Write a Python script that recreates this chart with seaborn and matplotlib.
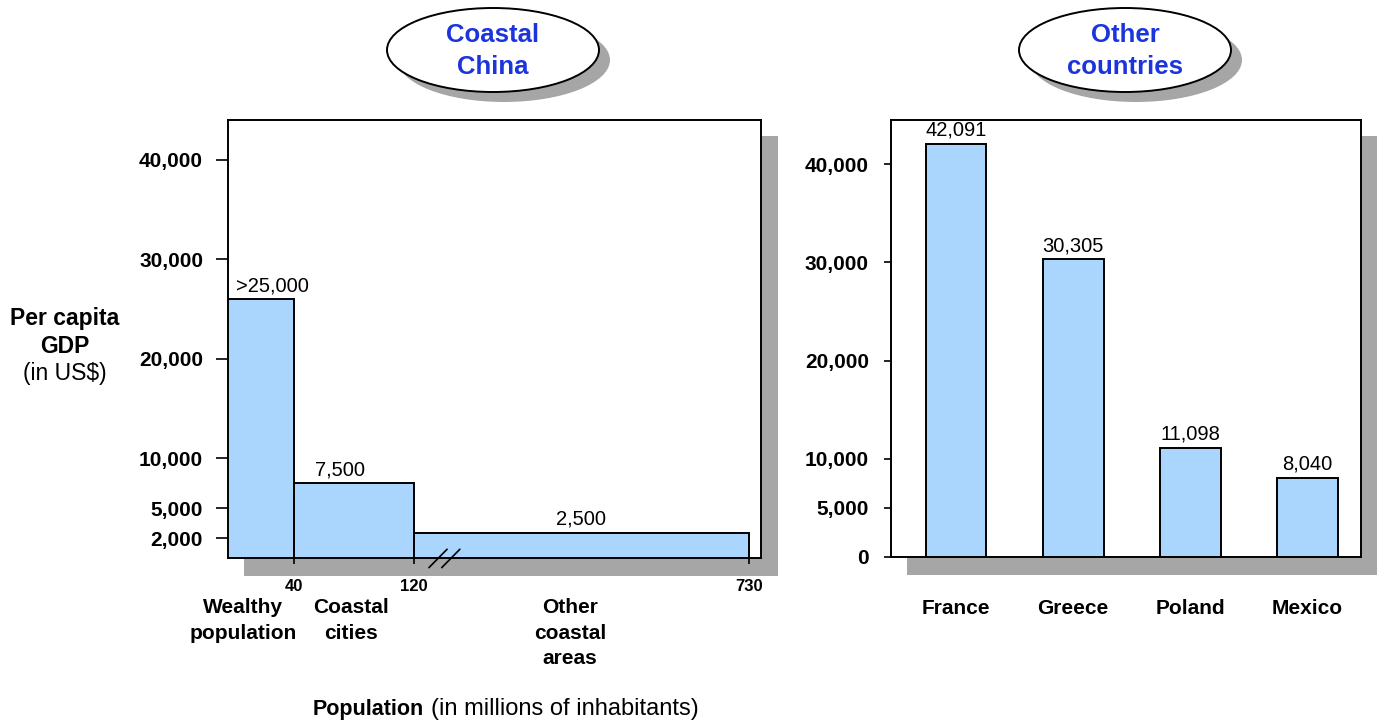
import numpy as np
import pandas as pd
import matplotlib
matplotlib.use("Agg")
import matplotlib.pyplot as plt
from matplotlib.patches import Rectangle, Ellipse
import seaborn as sns

# ---- data -------------------------------------------------------------
china_groups = ["Wealthy\npopulation", "Coastal\ncities", "Other\ncoastal\nareas"]
china_pop_edges = [0, 40, 120, 730]          # cumulative population, millions
china_gdp = [26000, 7500, 2500]              # per capita GDP, US$
china_gdp_labels = [">25,000", "7,500", "2,500"]

countries = ["France", "Greece", "Poland", "Mexico"]
country_gdp = [42091, 30305, 11098, 8040]
country_gdp_labels = ["42,091", "30,305", "11,098", "8,040"]

left_yticks = [2000, 5000, 10000, 20000, 30000, 40000]
right_yticks = [0, 5000, 10000, 20000, 30000, 40000]
pop_ticks = [40, 120, 730]

# ---- style ------------------------------------------------------------
sns.set_style("white")
plt.rcParams["font.family"] = ["Liberation Sans", "DejaVu Sans"]
for key in ("text.color", "axes.labelcolor", "xtick.color", "ytick.color",
            "axes.edgecolor"):
    plt.rcParams[key] = "black"
BAR = "#AAD5FD"
SHADOW = "#A6A6A6"
BLUE = "#1B34DC"

W, H = 1384, 720
fig = plt.figure(figsize=(W / 100, H / 100), dpi=100)


def frac_rect(x0, y0, x1, y1):
    return [x0 / W, 1 - y1 / H, (x1 - x0) / W, (y1 - y0) / H]


def shadow(x0, y0, x1, y1):
    fig.add_artist(Rectangle((x0 / W, 1 - y1 / H), (x1 - x0) / W, (y1 - y0) / H,
                             transform=fig.transFigure, facecolor=SHADOW,
                             edgecolor="none", zorder=-5))


def bubble(cx, cy, text):
    w, h = 212 / W, 84 / H
    fig.add_artist(Ellipse(((cx + 11) / W, 1 - (cy + 10) / H), w, h,
                           transform=fig.transFigure, facecolor=SHADOW,
                           edgecolor="none", zorder=5))
    fig.add_artist(Ellipse((cx / W, 1 - cy / H), w, h,
                           transform=fig.transFigure, facecolor="white",
                           edgecolor="black", linewidth=1.4, zorder=6))
    fig.text(cx / W, 1 - (cy + 1) / H, text, ha="center", va="center",
             color=BLUE, fontsize=18.5, fontweight="bold", linespacing=1.45,
             zorder=7)


# drop shadows behind the two panels
shadow(244, 136, 778, 576)
shadow(907, 136, 1377, 575)

ax1 = fig.add_axes(frac_rect(228, 120, 761, 558))
ax2 = fig.add_axes(frac_rect(891, 120, 1361, 557))

# ---- left panel: population-width bars with a compressed tail --------
scale_data = [0, 40, 120, 730, 800]
scale_pos = [0, 66, 186, 521, 559.4]


def fwd(x):
    return np.interp(x, scale_data, scale_pos)


def inv(p):
    return np.interp(p, scale_pos, scale_data)


ax1.set_xscale("function", functions=(fwd, inv))
lefts = china_pop_edges[:-1]
widths = np.diff(china_pop_edges)
bars = ax1.bar(lefts, china_gdp, width=widths, align="edge", color=BAR,
               edgecolor="black", linewidth=1.4, zorder=3)
label_shift = [8, -10, 0]   # horizontal nudge of each value label, points
for rect, lab, dx in zip(bars, china_gdp_labels, label_shift):
    x0 = rect.get_x()
    xm = inv((fwd(x0) + fwd(x0 + rect.get_width())) / 2)
    ax1.annotate(lab, (xm, rect.get_height()), xytext=(dx, 3),
                 textcoords="offset points", ha="center", va="bottom",
                 fontsize=14.5)

ax1.set_xlim(0, 752)
ax1.set_ylim(0, 44000)
ax1.set_xticks(pop_ticks)
ax1.set_xticklabels([str(t) for t in pop_ticks], fontsize=12, fontweight="bold")
ax1.set_yticks(left_yticks)
ax1.set_yticklabels([f"{t:,}" for t in left_yticks], fontsize=15,
                    fontweight="bold")
ax1.tick_params(axis="x", direction="out", length=4, width=1.2, pad=11)
ax1.tick_params(axis="y", direction="out", length=9, width=1.2, pad=9)
ax1.xaxis.set_ticks_position("bottom")
ax1.yaxis.set_ticks_position("left")
for s in ax1.spines.values():
    s.set_linewidth(1.4)
    s.set_color("black")

# axis break marks on the baseline
for dx in (0.0, 0.024):
    ax1.plot([0.377 + dx, 0.411 + dx], [-0.022, 0.020], color="black",
             linewidth=1.2, transform=ax1.transAxes, clip_on=False, zorder=6)

# group names beneath the population axis
group_x = [9, 78, 404]
for gx, name in zip(group_x, china_groups):
    ax1.text(gx, -0.091, name, transform=ax1.get_xaxis_transform(),
             ha="center", va="top", fontsize=15, fontweight="bold",
             linespacing=1.45)

# ---- right panel: country comparison ---------------------------------
df = pd.DataFrame({"country": countries, "gdp": country_gdp})
sns.barplot(data=df, x="country", y="gdp", ax=ax2, color=BAR, width=0.52,
            edgecolor="black", linewidth=1.4, saturation=1, zorder=3)
for i, (v, lab) in enumerate(zip(country_gdp, country_gdp_labels)):
    ax2.annotate(lab, (i, v), xytext=(0, 3), textcoords="offset points",
                 ha="center", va="bottom", fontsize=14.5)
ax2.set_xlim(-0.556, 3.46)
ax2.set_ylim(0, 44500)
ax2.set_yticks(right_yticks)
ax2.set_yticklabels([f"{t:,}" for t in right_yticks], fontsize=15,
                    fontweight="bold")
ax2.set_xticks(range(len(countries)))
ax2.set_xticklabels(countries, fontsize=15, fontweight="bold")
ax2.tick_params(axis="x", length=0, pad=30)
ax2.tick_params(axis="y", direction="out", length=5, width=1.2, pad=11)
ax2.yaxis.set_ticks_position("left")
ax2.set_xlabel("")
ax2.set_ylabel("")
for s in ax2.spines.values():
    s.set_visible(True)
    s.set_linewidth(1.4)
    s.set_color("black")

# ---- titles and axis captions ----------------------------------------
bubble(493, 50, "Coastal\nChina")
bubble(1125, 50, "Other\ncountries")

fig.text(65 / W, 1 - 325 / H, "Per capita", ha="center", va="baseline",
         fontsize=16.5, fontweight="bold")
fig.text(65 / W, 1 - 353 / H, "GDP", ha="center", va="baseline",
         fontsize=16.5, fontweight="bold")
fig.text(65 / W, 1 - 380 / H, "(in US$)", ha="center", va="baseline",
         fontsize=16.5)

fig.text(424 / W, 1 - 715 / H, "Population", ha="right", va="baseline",
         fontsize=15.5, fontweight="bold")
fig.text(431 / W, 1 - 715 / H, "(in millions of inhabitants)", ha="left",
         va="baseline", fontsize=17)

fig.savefig("out.png", dpi=100)
